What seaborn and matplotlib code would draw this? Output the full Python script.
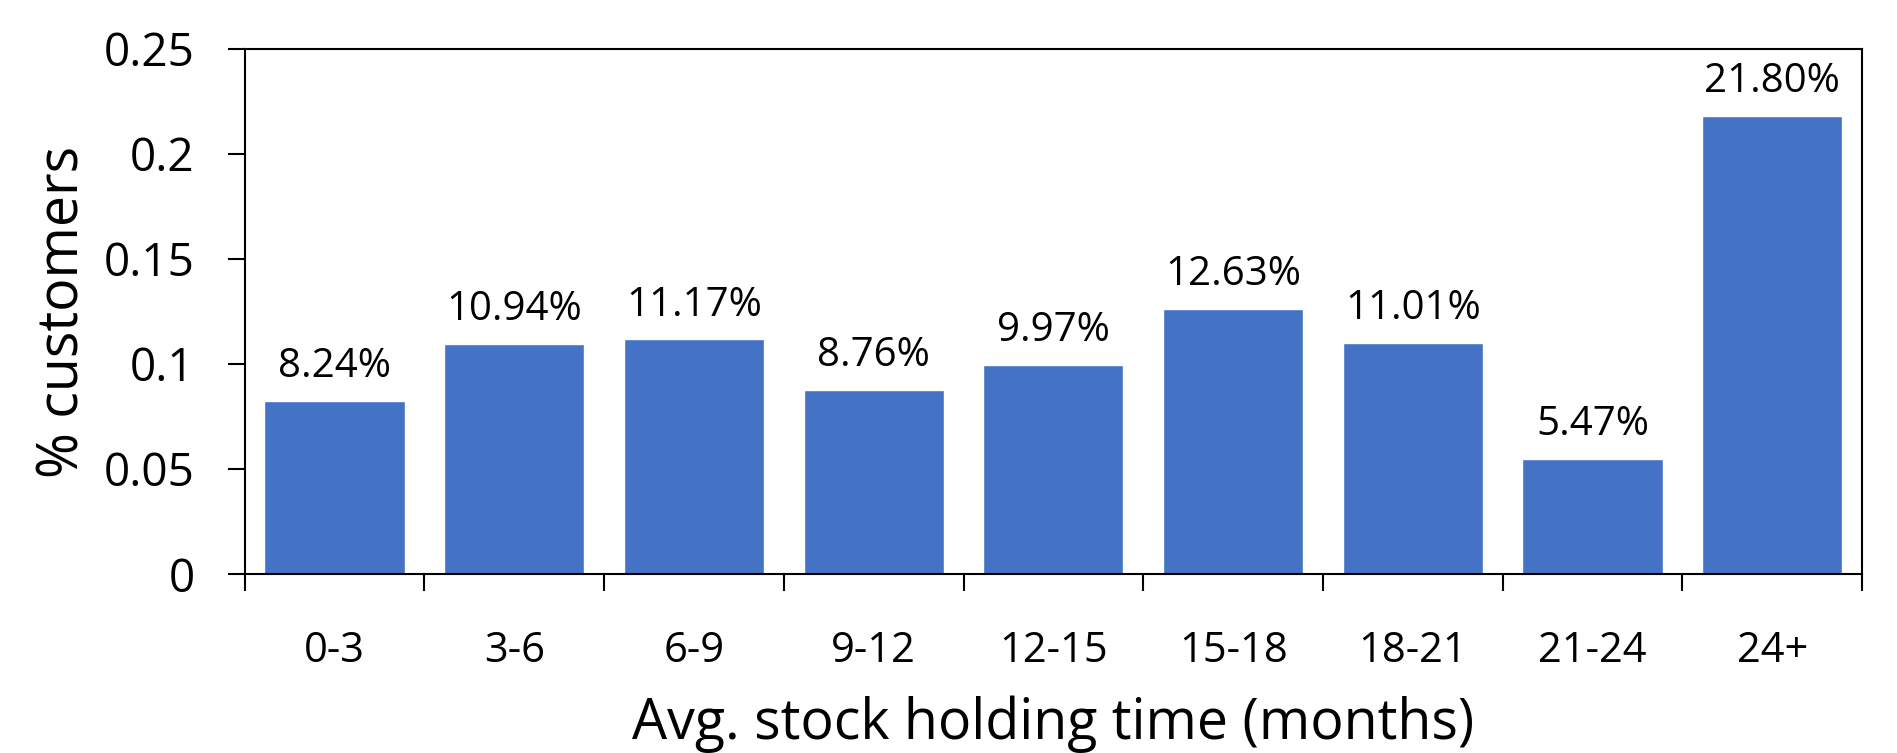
import matplotlib
matplotlib.use("Agg")
import matplotlib.pyplot as plt
import seaborn as sns
import pandas as pd

# data
categories = ["0-3", "3-6", "6-9", "9-12", "12-15", "15-18", "18-21", "21-24", "24+"]
share = [0.0824, 0.1094, 0.1117, 0.0876, 0.0997, 0.1263, 0.1101, 0.0547, 0.2180]
y_ticks = [0, 0.05, 0.1, 0.15, 0.2, 0.25]

df = pd.DataFrame({"holding": categories, "share": share})

sns.set_style("ticks")
plt.rcParams["font.family"] = ["Open Sans", "DejaVu Sans"]
plt.rcParams["text.color"] = "black"
plt.rcParams["axes.labelcolor"] = "black"
plt.rcParams["xtick.color"] = "black"
plt.rcParams["ytick.color"] = "black"

fig = plt.figure(figsize=(18.97, 7.53), dpi=100)
ax = fig.add_axes([0.129, 0.2377, 0.8526, 0.6973])

sns.barplot(data=df, x="holding", y="share", color="#4472C4", saturation=1,
            width=0.78, ax=ax)

ax.bar_label(ax.containers[0], labels=[f"{v * 100:.2f}%" for v in share],
             fontsize=29, padding=10, color="black")

ax.set_ylim(0, 0.25)
ax.set_yticks(y_ticks)
ax.set_yticklabels([f"{v:g}" for v in y_ticks])
ax.set_xlim(-0.5, len(categories) - 0.5)

# tick marks sit between categories, labels centered under bars
ax.set_xticks([i - 0.5 for i in range(len(categories) + 1)], minor=True)
ax.tick_params(axis="x", which="major", length=0, pad=40, labelsize=30)
ax.tick_params(axis="x", which="minor", length=12, width=1.5, color="black")
ax.tick_params(axis="y", length=12, width=1.5, labelsize=33, pad=24)

for side in ["left", "right", "top", "bottom"]:
    ax.spines[side].set_visible(True)
    ax.spines[side].set_color("black")
    ax.spines[side].set_linewidth(1.5)

ax.set_xlabel("Avg. stock holding time (months)", fontsize=40, labelpad=17)
ax.set_ylabel("% customers", fontsize=40, labelpad=8)

fig.savefig("out.png", dpi=100)
